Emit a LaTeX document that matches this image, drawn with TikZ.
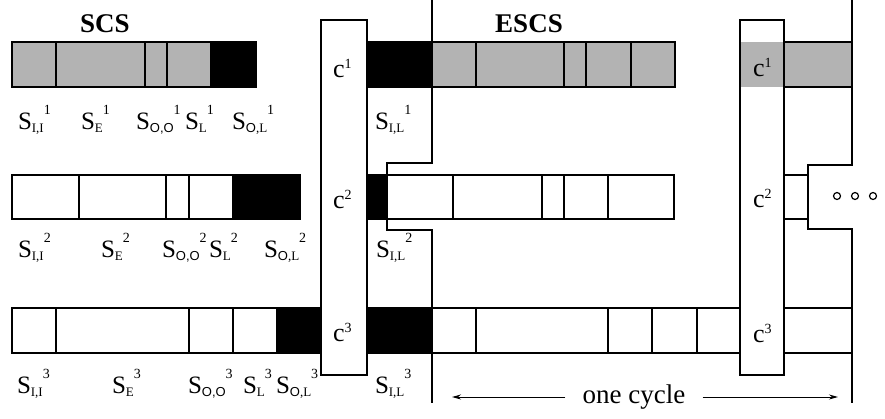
\documentclass[tikz,border=0pt]{standalone}
\usepackage{fontspec}
\setmainfont{Liberation Serif}
\newfontfamily\sansO{Liberation Sans}
\usetikzlibrary{arrows.meta}
\definecolor{cellgray}{RGB}{179,179,179}
\newcommand{\subsz}{\fontsize{13}{13}\selectfont}
\newcommand{\supsz}{\fontsize{14}{14}\selectfont}
\newcommand{\Slab}[2]{\fontsize{25}{25}\selectfont S\raisebox{-3pt}{\subsz #1}\raisebox{15pt}{\supsz #2}}
\newcommand{\clab}[1]{\fontsize{26}{26}\selectfont c\raisebox{9pt}{\fontsize{14}{14}\selectfont #1}}
\newcommand{\OO}{{\sansO O,O}}
\newcommand{\OL}{{\sansO O},L}
\begin{document}
\begin{tikzpicture}[x=1pt,y=-1pt,
  cell/.style={draw=black,line width=1.2pt,fill=white},
  gcell/.style={draw=black,line width=1.2pt,fill=cellgray},
  bcell/.style={draw=black,line width=1.2pt,fill=black},
  heavy/.style={draw=black,line width=2.8pt},
  lbl/.style={anchor=base west,inner sep=0pt,outer sep=0pt},
  ttl/.style={anchor=base,inner sep=0pt,font=\fontsize{27}{27}\selectfont\bfseries},
  dot/.style={circle,draw=black,line width=1.2pt,minimum size=7pt,inner sep=0pt}]
\useasboundingbox (0,0) rectangle (885,418);
\fill[white] (0,0) rectangle (885,418);
% titles
\node[ttl] (scs) at (105,32) {SCS};
\node[ttl] (escs) at (529,32) {ESCS};
% row 1
\foreach \a/\b in {12/56,56/145,145/167,167/211} \draw[gcell] (\a,42) rectangle (\b,87);
\draw[bcell] (211,42) rectangle (256,87);
\draw[bcell] (360,42) rectangle (432,87);
\foreach \a/\b in {432/476,476/564,564/586,586/631,631/675} \draw[gcell] (\a,42) rectangle (\b,87);
\draw[gcell] (784,42) rectangle (852,87);
% row 2
\foreach \a/\b in {12/79,79/166,166/189,189/233} \draw[cell] (\a,175) rectangle (\b,219);
\draw[bcell] (233,175) rectangle (300,219);
\draw[bcell] (360,175) rectangle (387,219);
\foreach \a/\b in {387/453,453/542,542/564,564/608,608/674} \draw[cell] (\a,175) rectangle (\b,219);
\draw[cell] (784,175) rectangle (808,219);
% row 3
\foreach \a/\b in {12/56,56/189,189/233,233/277} \draw[cell] (\a,308) rectangle (\b,353);
\draw[bcell] (277,308) rectangle (330,353);
\draw[bcell] (360,308) rectangle (432,353);
\foreach \a/\b in {432/476,476/608,608/652,652/697,697/745} \draw[cell] (\a,308) rectangle (\b,353);
\draw[cell] (780,308) rectangle (852,353);
% separator lines
\draw[heavy] (432,0) -- (432,163) -- (387,163) -- (387,230) -- (432,230) -- (432,403);
\draw[heavy] (852,0) -- (852,165) -- (808,165) -- (808,229) -- (852,229) -- (852,403);
% column boxes
\fill[white] (321,20) rectangle (367,375);
\draw[heavy] (321,20) rectangle (367,375);
\fill[white] (740,20) rectangle (784,375);
\fill[cellgray] (740,42) rectangle (784,87);
\draw[heavy] (740,20) rectangle (784,375);
% c labels
\node[lbl] (cl1) at (333,77) {\clab{1}};
\node[lbl] (cl2) at (333,208) {\clab{2}};
\node[lbl] (cl3) at (333,341) {\clab{3}};
\node[lbl] (cr1) at (753,76) {\clab{1}};
\node[lbl] (cr2) at (753,207) {\clab{2}};
\node[lbl] (cr3) at (753,342) {\clab{3}};
% row 1 labels
\node[lbl] (a1) at (18,129) {\Slab{I,I}{1}};
\node[lbl] (b1) at (81,129) {\Slab{E}{1}};
\node[lbl] (d1l) at (136,129) {\Slab{\OO}{1}};
\node[lbl] (e1) at (185,129) {\Slab{L}{1}};
\node[lbl] (f1) at (232,129) {\Slab{\OL}{1}};
\node[lbl] (g1) at (375,129) {\Slab{I,L}{1}};
% row 2 labels
\node[lbl] (a2) at (18,257) {\Slab{I,I}{2}};
\node[lbl] (b2) at (101,257) {\Slab{E}{2}};
\node[lbl] (d2l) at (162,257) {\Slab{\OO}{2}};
\node[lbl] (e2) at (209,257) {\Slab{L}{2}};
\node[lbl] (f2) at (264,257) {\Slab{\OL}{2}};
\node[lbl] (g2) at (376,257) {\Slab{I,L}{2}};
% row 3 labels
\node[lbl] (a3) at (17,393) {\Slab{I,I}{3}};
\node[lbl] (b3) at (112,393) {\Slab{E}{3}};
\node[lbl] (d3l) at (188,393) {\Slab{\OO}{3}};
\node[lbl] (e3) at (243,393) {\Slab{L}{3}};
\node[lbl] (f3) at (276,393) {\Slab{\OL}{3}};
\node[lbl] (g3) at (375,393) {\Slab{I,L}{3}};
% dots
\node[dot] (o1) at (837,196) {};
\node[dot] (o2) at (855,196) {};
\node[dot] (o3) at (873,196) {};
% one cycle
\node[anchor=base,inner sep=0pt,font=\fontsize{27}{27}\selectfont] (oc) at (634,403) {one cycle};
\coordinate (la) at (452,397);
\coordinate (ra) at (838,397);
\draw[line width=1pt,-{Stealth[length=9pt,width=5pt]}] (oc.west |- la) ++(-17,0) -- (la);
\draw[line width=1pt,-{Stealth[length=9pt,width=5pt]}] (oc.east |- ra) ++(17,0) -- (ra);
\end{tikzpicture}
\end{document}
